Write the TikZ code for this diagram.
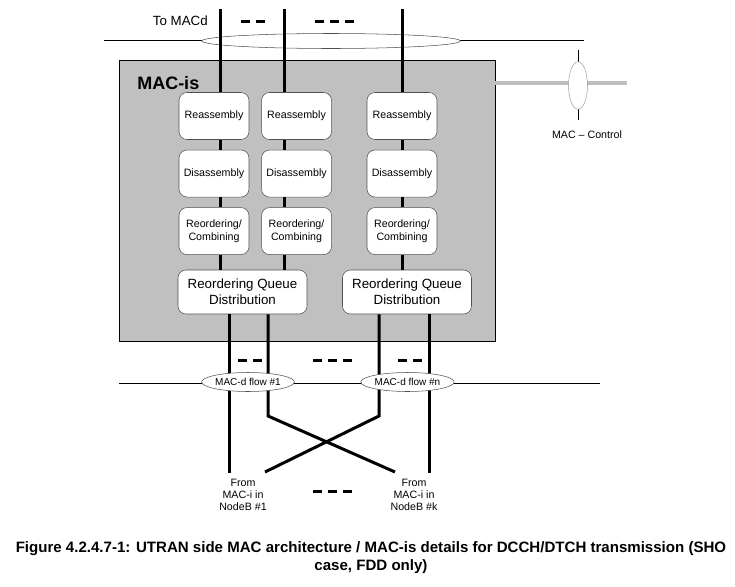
\documentclass[tikz,border=0pt]{standalone}
\usepackage{fontspec}
\setmainfont{Liberation Sans}
\usetikzlibrary{shapes.geometric, positioning}

\definecolor{macgray}{RGB}{192,192,192}
\definecolor{ctlgray}{RGB}{190,190,190}
\definecolor{edgegray}{RGB}{80,80,80}

\begin{document}
\begin{tikzpicture}[
    x=0.75pt, y=-0.75pt,
    node distance=7.5pt and 9pt,
    fn/.style={
      draw=edgegray,
      fill=white,
      rectangle,
      rounded corners=6pt,
      minimum width=52.5pt,
      minimum height=35.25pt,
      font=\fontsize{8}{9.5}\selectfont,
      align=center
    },
    qd/.style={fn, minimum width=96.75pt, minimum height=33pt, font=\fontsize{10}{12}\selectfont},
    flow/.style={draw=edgegray, fill=white, ellipse, inner sep=0pt, font=\fontsize{7.5}{9}\selectfont},
    rule/.style={draw, line width=0.6pt},
    link/.style={draw, line width=2.25pt},
    gap/.style={draw, line width=2.25pt, dash pattern=on 6.75pt off 4.5pt},
    lbl/.style={font=\fontsize{8}{9}\selectfont, align=center, inner sep=0pt}
  ]
    \useasboundingbox (0,0) rectangle (735,586);

    \draw[rule] (104,40) -- (584,40);
    \node[flow, minimum width=194pt, minimum height=11.25pt] (tomacd) at (331,41) {};
    \node[lbl, font=\fontsize{10}{12}\selectfont, anchor=east] (totxt) at (208,21) {To MACd};
    \draw[gap] (241,21) -- (265,21);
    \draw[gap] (315,21) -- (354,21);

    \node[draw, line width=0.6pt, fill=macgray, minimum width=282pt, minimum height=210.75pt] (mac) at (307,200.5) {};
    \node[font=\bfseries\fontsize{13.5}{16}\selectfont, anchor=west, inner sep=0pt] (mactitle) at (137,83) {MAC-is};

    \node[fn] (ra1) at (214,116) {Reassembly};
    \node[fn] (ra2) [right=of ra1] {Reassembly};
    \node[fn] (ra3) at (402,116) {Reassembly};
    \node[fn] (da1) [below=of ra1] {Disassembly};
    \node[fn] (da2) [below=of ra2] {Disassembly};
    \node[fn] (da3) [below=of ra3] {Disassembly};
    \node[fn] (ro1) [below=of da1] {Reordering/\\Combining};
    \node[fn] (ro2) [below=of da2] {Reordering/\\Combining};
    \node[fn] (ro3) [below=of da3] {Reordering/\\Combining};
    \node[qd] (rq1) at (242.5,292) {Reordering Queue\\Distribution};
    \node[qd] (rq2) at (407,292) {Reordering Queue\\Distribution};

    \coordinate (t1) at (220,9);
    \coordinate (t2) at (284,9);
    \coordinate (t3) at (402,9);
    \foreach \c/\q in {1/rq1, 2/rq1, 3/rq2} {
      \draw[link] (t\c) -- (t\c |- ra\c.north)
        (t\c |- ra\c.south) -- (t\c |- da\c.north)
        (t\c |- da\c.south) -- (t\c |- ro\c.north)
        (t\c |- ro\c.south) -- (t\c |- \q.north);
    }

    % MAC control
    \coordinate (ctlend) at (627,83);
    \coordinate (ctltop) at (578,50);
    \coordinate (ctlbot) at (578,120);
    \draw[line width=3pt, ctlgray] (mac.east |- ctlend) -- (ctlend);
    \draw[rule] (ctltop) -- (ctlbot);
    \node[draw=ctlgray!85!black, fill=white, ellipse, inner sep=0pt, minimum width=14.25pt, minimum height=35.5pt] (ctl) at (578,85.5) {};
    \node[lbl] (ctltxt) at (587,135) {MAC -- Control};

    % towards the NodeBs
    \draw[rule] (119,383) -- (600,383);
    \coordinate (e1) at (229,473);
    \coordinate (b2) at (268,416);
    \coordinate (e2) at (395,472);
    \coordinate (b3) at (379,416);
    \coordinate (e3) at (265,472);
    \coordinate (e4) at (429,473);
    \draw[link] (e1 |- rq1.south) -- (e1);
    \draw[link] (b2 |- rq1.south) -- (b2) -- (e2);
    \draw[link] (b3 |- rq2.south) -- (b3) -- (e3);
    \draw[link] (e4 |- rq2.south) -- (e4);
    \node[flow, minimum width=69pt, minimum height=14.25pt] (flow1) at (248,382) {MAC-d flow \#1};
    \node[flow, minimum width=70pt, minimum height=14.25pt] (flow2) at (407.5,382) {MAC-d flow \#n};
    \draw[gap] (238,360) -- (262,360);
    \draw[gap] (313,360) -- (352,360);
    \draw[gap] (398,360) -- (422,360);

    \node[lbl] (src1) at (243,495) {From\\MAC-i in\\NodeB \#1};
    \node[lbl] (src2) at (414,495) {From\\MAC-i in\\NodeB \#k};
    \draw[gap] (313,491) -- (352,491);

    \node[font=\bfseries\fontsize{11.3}{13.5}\selectfont, align=center, inner sep=0pt] (caption) at (371,558)
      {Figure 4.2.4.7-1: UTRAN side MAC architecture / MAC-is details for DCCH/DTCH transmission (SHO\\case, FDD only)};
  \end{tikzpicture}
\end{document}
